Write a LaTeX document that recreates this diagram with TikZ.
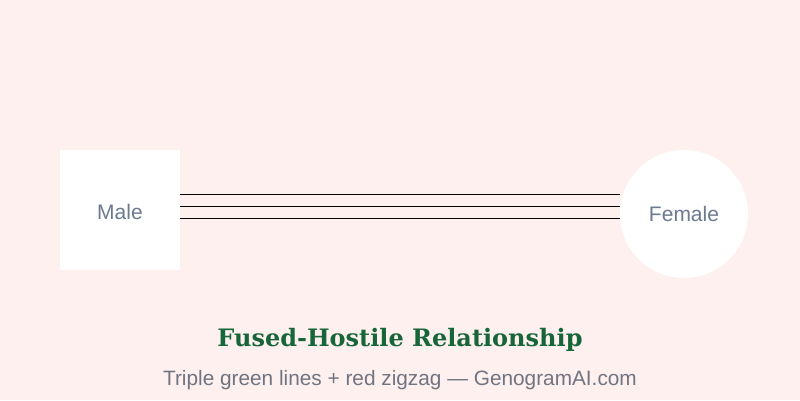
\documentclass[tikz,border=0pt]{standalone}
\usepackage{fontspec}
\setmainfont{Liberation Sans}
\newfontfamily\titlefont{DejaVu Serif}
\definecolor{bgc}{HTML}{FFF0F0}
\definecolor{lbl}{HTML}{6B7A90}
\definecolor{ttl}{HTML}{17663A}
\definecolor{sub}{HTML}{707480}
\begin{document}
\begin{tikzpicture}[x=1pt,y=-1pt,
  person/.style={fill=white,draw=none,inner sep=0pt},
  plabel/.style={text=lbl,font=\fontsize{21}{24}\selectfont},
  rel/.style={draw=black,line width=0.9pt}]
\fill[bgc] (0,0) rectangle (800,400);
\useasboundingbox (0,0) rectangle (800,400);
\node[person,minimum width=120pt,minimum height=120pt] (m) at (120,210) {};
\node[plabel] (ml) at (120,212) {Male};
\node[person,circle,minimum size=128pt] (f) at (684,214) {};
\node[plabel] (fl) at (684,214) {Female};
\foreach \yy in {194,206,218}
  \draw[rel] (m.east |- 0,\yy) -- (f.west |- 0,\yy);
\node[text=ttl,font=\titlefont\bfseries\fontsize{24}{28}\selectfont] (t) at (400,340) {Fused-Hostile Relationship};
\node[text=sub,font=\fontsize{20.8}{24}\selectfont] (s) at (400,380) {Triple green lines + red zigzag — GenogramAI.com};
\end{tikzpicture}
\end{document}
